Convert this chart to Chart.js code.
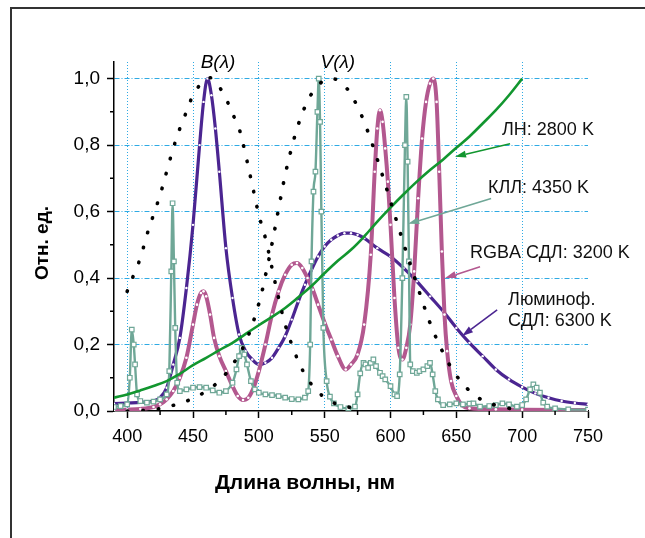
<!DOCTYPE html>
<html>
<head>
<meta charset="utf-8">
<script src="https://cdn.jsdelivr.net/npm/chart.js@4"></script>
<style>
html, body { margin: 0; padding: 0; background: #fff; }
</style>
</head>
<body>
<canvas id="c" width="645" height="538"></canvas>
<script>
// --- data ---
const xTicks = [400, 450, 500, 550, 600, 650, 700, 750];
const xGrid = [400, 450, 500, 550, 600, 650, 700];
const xMinor = [425, 475, 525, 575, 625, 675, 725];
const yTicks = [0, 0.2, 0.4, 0.6, 0.8, 1.0];
const yMinor = [0.1, 0.3, 0.5, 0.7, 0.9];

// ЛН: 2800 K
const wlGreen = [390,400,410,420,430,440,450,460,470,480,490,500,510,520,530,540,550,560,570,580,590,600,610,620,630,640,650,660,670,680,690,700];
const valGreen = [0.040,0.050,0.062,0.075,0.090,0.112,0.138,0.160,0.183,0.205,0.232,0.258,0.283,0.310,0.342,0.376,0.415,0.452,0.485,0.525,0.570,0.612,0.652,0.690,0.725,0.757,0.792,0.826,0.865,0.905,0.950,1.000];

// Люминоф. СДЛ: 6300 K
const wlPurple = [390,400,410,420,425,430,435,440,445,450,455,458,461,464,467,470,475,480,485,490,495,500,505,510,515,520,525,530,535,540,545,550,555,560,565,570,575,580,590,600,610,620,630,640,650,660,670,680,690,700,710,720,730,740,750];
const valPurple = [0.022,0.024,0.026,0.030,0.040,0.070,0.140,0.220,0.370,0.560,0.800,0.930,1.000,0.950,0.850,0.720,0.490,0.340,0.230,0.180,0.155,0.140,0.145,0.160,0.190,0.225,0.275,0.330,0.380,0.425,0.465,0.495,0.515,0.528,0.535,0.535,0.530,0.520,0.490,0.465,0.430,0.390,0.345,0.300,0.250,0.205,0.165,0.125,0.095,0.072,0.053,0.040,0.030,0.024,0.020];

// RGBA СДЛ: 3200 K
const wlPink = [390,400,410,420,425,430,435,440,445,450,453,456,458,460,463,466,470,475,480,484,488,492,496,500,505,510,515,520,525,529,533,537,541,545,550,555,560,566,570,575,580,585,588,590,592,594,596,598,600,603,606,609,612,615,618,621,624,627,630,632.5,635,637,639,641,643,646,650,655,660,680,700,750];
const valPink = [0.003,0.004,0.006,0.012,0.020,0.035,0.060,0.100,0.160,0.260,0.320,0.355,0.360,0.345,0.290,0.220,0.165,0.120,0.075,0.045,0.033,0.040,0.070,0.120,0.200,0.290,0.360,0.410,0.440,0.445,0.430,0.400,0.365,0.320,0.265,0.215,0.165,0.125,0.140,0.170,0.260,0.470,0.720,0.850,0.905,0.870,0.790,0.690,0.560,0.340,0.190,0.155,0.190,0.260,0.420,0.640,0.820,0.930,0.985,1.000,0.930,0.720,0.480,0.290,0.180,0.090,0.045,0.015,0.008,0.005,0.004,0.003];

// КЛЛ: 4350 K
const wlTeal = [390,395,400,402,403.5,405,406,407.5,410,415,420,425,430,432,433.5,434.5,435.5,436.5,438,440,445,450,455,460,465,470,475,480,483,485,487,489,491,494,497,500,505,510,515,520,525,530,535,537.5,539,540,541.5,543,544.5,545.5,546.5,547.5,549,551.5,554,557,562,568,573,575,577,579.5,581,583,585,587,589,592,594,596,600,603,605,607,609,611,612,613,614,615,617,620,622,625,628,630,632,634,636,640,645,650,655,660,663,668,675,680,685,690,696,700,703,706,708.5,711,713.5,716,719,725,735,750];
const valTeal = [0.012,0.015,0.020,0.100,0.245,0.200,0.140,0.050,0.030,0.025,0.028,0.035,0.050,0.120,0.420,0.625,0.450,0.250,0.085,0.060,0.065,0.070,0.072,0.070,0.062,0.055,0.060,0.085,0.125,0.165,0.190,0.170,0.140,0.090,0.065,0.055,0.050,0.048,0.045,0.040,0.036,0.035,0.040,0.060,0.200,0.450,0.660,0.720,0.900,1.000,0.870,0.600,0.250,0.090,0.043,0.023,0.012,0.008,0.013,0.050,0.113,0.145,0.140,0.130,0.145,0.155,0.135,0.115,0.105,0.095,0.075,0.050,0.045,0.110,0.400,0.800,0.945,0.750,0.450,0.140,0.120,0.115,0.120,0.125,0.135,0.145,0.110,0.060,0.035,0.018,0.020,0.023,0.020,0.022,0.023,0.013,0.015,0.018,0.023,0.020,0.013,0.018,0.035,0.065,0.080,0.070,0.055,0.025,0.013,0.008,0.005,0.004];

// B(λ)
const wlB = [400,405,410,415,420,425,430,435,440,445,450,455,460,465,470,475,480,485,490,495,500,505,510,515,520,525,530,535,540,545,550,555,560,570];
const valB = [0.360,0.410,0.460,0.530,0.590,0.650,0.720,0.790,0.850,0.900,0.950,0.980,1.000,1.000,0.975,0.940,0.895,0.850,0.770,0.680,0.590,0.520,0.430,0.340,0.260,0.200,0.150,0.110,0.080,0.058,0.040,0.028,0.020,0.010];

// V(λ)
const wlV = [400,410,420,430,440,450,460,470,480,490,500,505,510,515,520,525,530,535,540,545,550,555,560,565,570,575,580,585,590,595,600,605,610,615,620,625,630,640,650,660,670,680,690,700];
const valV = [0.000,0.001,0.004,0.012,0.023,0.038,0.060,0.091,0.139,0.208,0.323,0.407,0.503,0.608,0.710,0.793,0.862,0.915,0.954,0.980,0.995,1.000,0.995,0.979,0.952,0.915,0.870,0.816,0.757,0.695,0.631,0.567,0.503,0.441,0.381,0.321,0.265,0.175,0.107,0.061,0.032,0.017,0.008,0.004];

const PURPLE = '#4b2591', PINK = '#b3588f', TEAL = '#6fa797', GREEN = '#12962f';
const GRIDC = '#2eaae4';
const FONT = '"Liberation Sans", Arial, sans-serif';

const notes = [
  { lines: ['ЛН: 2800 K'], color: GREEN, at: [684.7, 0.846], from: [690.8, 0.804], to: [649, 0.765] },
  { lines: ['КЛЛ: 4350 K'], color: TEAL, at: [674, 0.672], from: [676.4, 0.639], to: [613.4, 0.563] },
  { lines: ['RGBA СДЛ: 3200 K'], color: PINK, at: [660.4, 0.476], from: [668, 0.434], to: [641.5, 0.40] },
  { lines: ['Люминоф.', 'СДЛ: 6300 K'], color: PURPLE, at: [689.3, 0.334], from: [681, 0.304], to: [654.4, 0.226] }
];

function pts(xs, ys) {
  return xs.map((x, i) => ({ x: x, y: ys[i] }));
}

function has(list, v) {
  return list.some(t => Math.abs(t - v) < 1e-6);
}

function arrow(ctx, x1, y1, x2, y2, color) {
  const a = Math.atan2(y2 - y1, x2 - x1);
  const L = 11, W = 3.5;
  const bx = x2 - L * Math.cos(a), by = y2 - L * Math.sin(a);
  ctx.strokeStyle = color;
  ctx.fillStyle = color;
  ctx.lineWidth = 1.6;
  ctx.beginPath();
  ctx.moveTo(x1, y1);
  ctx.lineTo(bx, by);
  ctx.stroke();
  ctx.beginPath();
  ctx.moveTo(x2, y2);
  ctx.lineTo(bx + W * Math.sin(a), by - W * Math.cos(a));
  ctx.lineTo(bx - W * Math.sin(a), by + W * Math.cos(a));
  ctx.closePath();
  ctx.fill();
}

const deco = {
  id: 'deco',
  beforeDraw(chart) {
    const ctx = chart.ctx;
    ctx.save();
    ctx.fillStyle = '#fff';
    ctx.fillRect(0, 0, chart.width, chart.height);
    ctx.strokeStyle = '#333';
    ctx.lineWidth = 2;
    ctx.beginPath();
    ctx.moveTo(11, 538);
    ctx.lineTo(11, 8);
    ctx.lineTo(645, 8);
    ctx.stroke();
    ctx.restore();
  },
  afterDraw(chart) {
    const ctx = chart.ctx;
    const x = chart.scales.x, y = chart.scales.y;
    ctx.save();
    // minor ticks
    ctx.strokeStyle = '#000';
    ctx.lineWidth = 1.5;
    ctx.beginPath();
    yMinor.forEach(v => {
      const py = y.getPixelForValue(v);
      ctx.moveTo(x.left - 4, py);
      ctx.lineTo(x.left, py);
    });
    xMinor.forEach(v => {
      const px = x.getPixelForValue(v);
      ctx.moveTo(px, y.bottom);
      ctx.lineTo(px, y.bottom + 4);
    });
    ctx.stroke();

    // axis titles
    ctx.fillStyle = '#000';
    ctx.textAlign = 'center';
    ctx.textBaseline = 'middle';
    ctx.font = 'bold 21px ' + FONT;
    ctx.fillText('Длина волны, нм', 305, 483);
    ctx.save();
    ctx.translate(43, 243);
    ctx.rotate(-Math.PI / 2);
    ctx.font = 'bold 19px ' + FONT;
    ctx.fillText('Отн. ед.', 0, 0);
    ctx.restore();

    // curve names
    ctx.font = 'italic 19px ' + FONT;
    ctx.fillText('B(λ)', x.getPixelForValue(469), y.getPixelForValue(1.048));
    ctx.fillText('V(λ)', x.getPixelForValue(560), y.getPixelForValue(1.048));

    // callouts
    ctx.font = '18px ' + FONT;
    ctx.textAlign = 'left';
    notes.forEach(n => {
      ctx.fillStyle = '#111';
      const tx = x.getPixelForValue(n.at[0]);
      const ty = y.getPixelForValue(n.at[1]);
      n.lines.forEach((s, i) => ctx.fillText(s, tx, ty + i * 21));
      arrow(ctx, x.getPixelForValue(n.from[0]), y.getPixelForValue(n.from[1]),
        x.getPixelForValue(n.to[0]), y.getPixelForValue(n.to[1]), n.color);
    });
    ctx.restore();
  }
};

const dotted = {
  borderColor: '#000',
  borderWidth: 3.6,
  borderDash: [0.5, 15],
  borderCapStyle: 'round',
  pointRadius: 0,
  tension: 0.4,
  order: 0
};

new Chart(document.getElementById('c'), {
  type: 'line',
  data: {
    datasets: [
      Object.assign({ label: 'B(λ)', data: pts(wlB, valB) }, dotted),
      Object.assign({ label: 'V(λ)', data: pts(wlV, valV) }, dotted),
      { label: 'ЛН: 2800 K', data: pts(wlGreen, valGreen), borderColor: GREEN, borderWidth: 2.6,
        pointRadius: 0, tension: 0.4, order: 1 },
      { label: 'КЛЛ: 4350 K', data: pts(wlTeal, valTeal), borderColor: TEAL, borderWidth: 2.4,
        pointStyle: 'rect', pointRadius: 3.2, pointBackgroundColor: '#fff', pointBorderColor: TEAL,
        pointBorderWidth: 1.2, cubicInterpolationMode: 'monotone', order: 2 },
      { label: 'RGBA СДЛ: 3200 K', data: pts(wlPink, valPink), borderColor: PINK, borderWidth: 4,
        pointRadius: 1.3, pointBackgroundColor: '#fff', pointBorderWidth: 0,
        cubicInterpolationMode: 'monotone', order: 3 },
      { label: 'Люминоф. СДЛ: 6300 K', data: pts(wlPurple, valPurple), borderColor: PURPLE, borderWidth: 3.2,
        pointRadius: 1.2, pointBackgroundColor: '#fff', pointBorderWidth: 0,
        cubicInterpolationMode: 'monotone', order: 4 }
    ]
  },
  options: {
    responsive: false,
    animation: false,
    devicePixelRatio: 1,
    layout: { padding: { left: 0, right: 57, top: 62, bottom: 0 } },
    plugins: { legend: { display: false }, tooltip: { enabled: false } },
    scales: {
      x: {
        type: 'linear',
        min: 390,
        max: 750,
        afterBuildTicks: s => { s.ticks = xTicks.map(v => ({ value: v })); },
        ticks: {
          autoSkip: false,
          maxRotation: 0,
          padding: 8,
          color: '#000',
          font: { family: FONT, size: 18 },
          callback: v => String(v)
        },
        grid: {
          color: c => (c.tick && has(xGrid, c.tick.value)) ? GRIDC : 'rgba(0,0,0,0)',
          lineWidth: 1,
          tickLength: 7,
          tickWidth: 1.5,
          tickColor: '#000'
        },
        border: { display: true, color: '#000', width: 1.5, dash: [1, 2] },
        afterFit: s => { s.height = 127; }
      },
      y: {
        min: 0,
        max: 1.05,
        afterBuildTicks: s => { s.ticks = yTicks.map(v => ({ value: v })); },
        ticks: {
          autoSkip: false,
          padding: 7,
          color: '#000',
          font: { family: FONT, size: 19 },
          callback: v => v.toFixed(1).replace('.', ',')
        },
        grid: {
          color: c => (c.tick && c.tick.value > 0) ? GRIDC : 'rgba(0,0,0,0)',
          lineWidth: 1,
          tickLength: 7,
          tickWidth: 1.5,
          tickColor: '#000'
        },
        border: { display: true, color: '#000', width: 1.5, dash: [5, 2, 1, 2] },
        afterFit: s => { s.width = 114; }
      }
    }
  },
  plugins: [deco]
});
</script>
</body>
</html>
